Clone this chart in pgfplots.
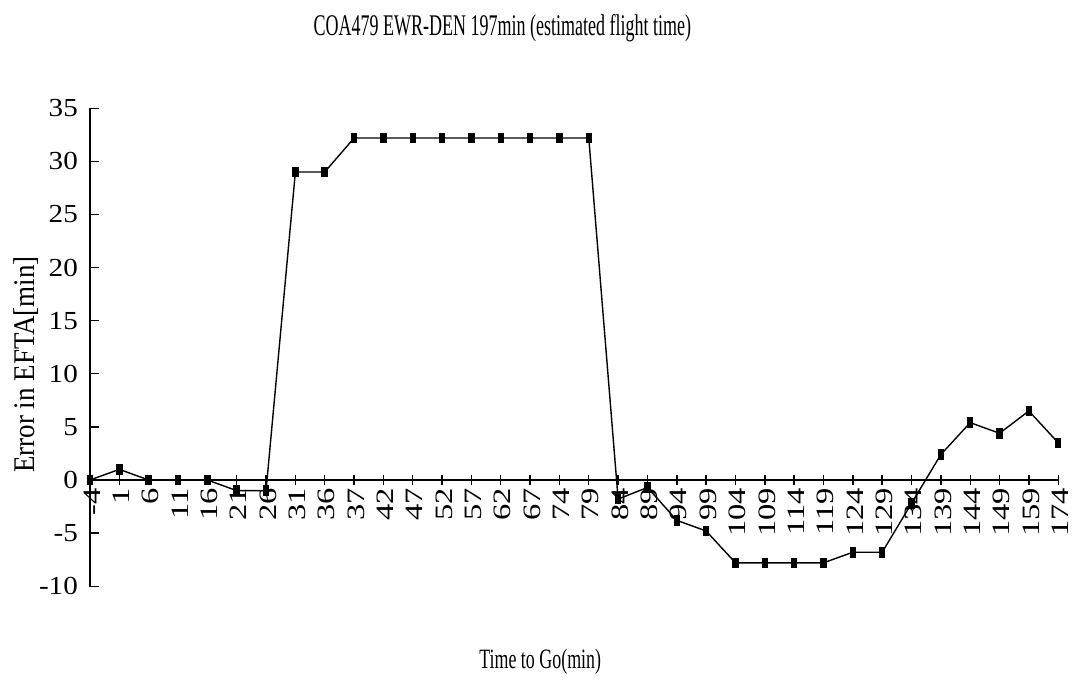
\documentclass[border=0pt]{standalone}
\usepackage{fontspec}
\setmainfont{Liberation Serif}
\usepackage{pgfplots}
\pgfplotsset{compat=1.18}
\begin{document}
\begin{tikzpicture}
\begin{axis}[
  at={(0,0)}, anchor=origin,
  x=14.67pt, y=5.31pt,
  xmin=0, xmax=33, ymin=-10, ymax=35,
  axis x line=middle, axis y line=left,
  axis line style={-, line width=0.8pt},
  hide obscured x ticks=false, hide obscured y ticks=false,
  xtick={0,...,33},
  xticklabels={-4,1,6,11,16,21,26,31,36,37,42,47,52,57,62,67,74,79,84,89,94,99,104,109,114,119,124,129,134,139,144,149,159,174},
  ytick={-10,-5,0,5,10,15,20,25,30,35},
  x tick label style={rotate=90, xscale=1.3, anchor=east, font=\fontsize{12.5}{12.5}\selectfont, inner sep=1pt, yshift=-1pt},
  y tick label style={xscale=1.12, font=\fontsize{13}{13}\selectfont, inner sep=1pt, xshift=-2pt},
  tick align=center, major tick length=5pt,
  tick style={black, line width=0.7pt},
  ytick style={xshift=2pt},
  /pgf/number format/assume math mode=true,
  clip=false,
]
\addplot[black, line width=0.7pt, mark=square*, mark size=2.3pt, mark options={xscale=0.55}]
  coordinates {
  (0,0) (1,1) (2,0) (3,0) (4,0) (5,-1) (6,-1) (7,29) (8,29) (9,32.2)
  (10,32.2) (11,32.2) (12,32.2) (13,32.2) (14,32.2) (15,32.2) (16,32.2) (17,32.2)
  (18,-1.8) (19,-0.7) (20,-3.8) (21,-4.8) (22,-7.8) (23,-7.8) (24,-7.8) (25,-7.8)
  (26,-6.8) (27,-6.8) (28,-2.2) (29,2.4) (30,5.4) (31,4.4) (32,6.5) (33,3.5)
  };
\node[font=\fontsize{15}{15}\selectfont] at (axis description cs:0.426,1.167)
  {\scalebox{0.6}[1]{COA479 EWR-DEN 197min (estimated flight time)}};
\node[font=\fontsize{14}{14}\selectfont] at (axis description cs:0.465,-0.159)
  {\scalebox{0.64}[1]{Time to Go(min)}};
\node[font=\fontsize{15}{15}\selectfont, rotate=90, xscale=0.9] at (axis description cs:-0.066,0.464)
  {Error in EFTA[min]};
\end{axis}
\path[use as bounding box] (-45pt,-99pt) rectangle (495.5pt,240pt);
\end{tikzpicture}
\end{document}
